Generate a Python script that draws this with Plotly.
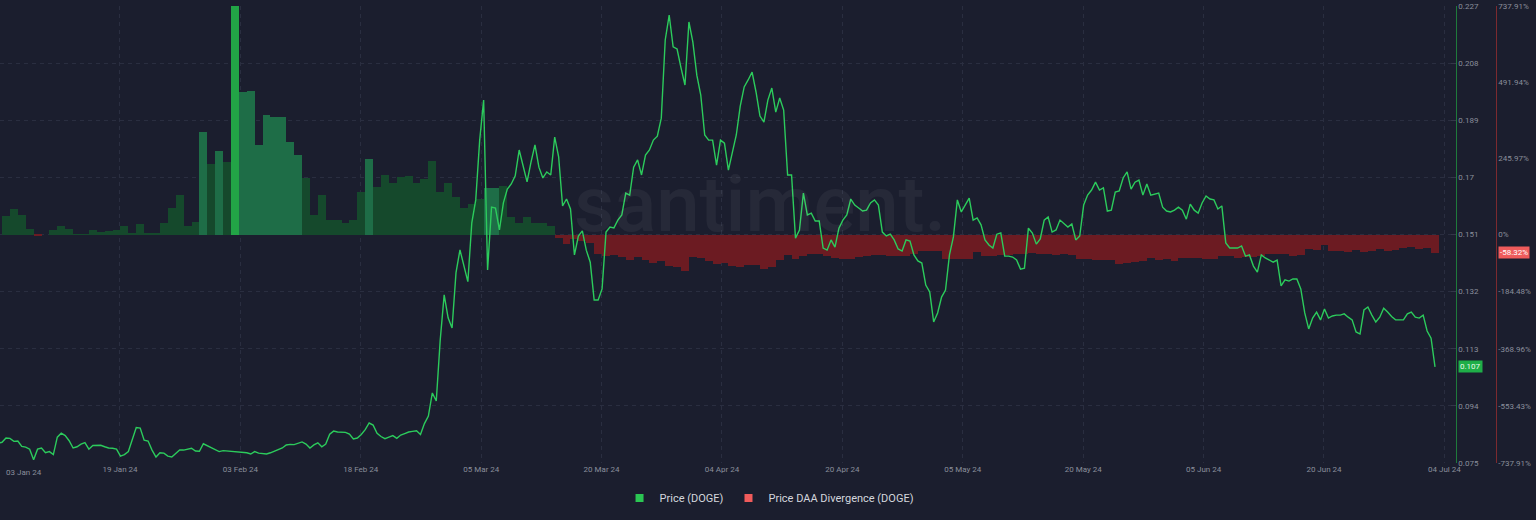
import plotly.graph_objects as go
import pandas as pd

# ---------------- data ----------------
price_start = "2024-01-04 00:00"          # 12-hourly DOGE price
price_doge = [
    0.0816, 0.0819, 0.0833, 0.0832, 0.0822, 0.0823, 0.0805, 0.0803, 0.0796, 0.0761,
    0.0796, 0.0800, 0.0784, 0.0788, 0.0778, 0.0836, 0.0849, 0.0841, 0.0824, 0.0800,
    0.0804, 0.0813, 0.0818, 0.0796, 0.0808, 0.0808, 0.0809, 0.0804, 0.0800, 0.0799,
    0.0796, 0.0773, 0.0778, 0.0788, 0.0826, 0.0868, 0.0866, 0.0826, 0.0823, 0.0793,
    0.0770, 0.0784, 0.0783, 0.0773, 0.0770, 0.0781, 0.0793, 0.0793, 0.0795, 0.0799,
    0.0790, 0.0789, 0.0814, 0.0808, 0.0801, 0.0795, 0.0788, 0.0791, 0.0790, 0.0788,
    0.0787, 0.0785, 0.0784, 0.0784, 0.0780, 0.0788, 0.0783, 0.0781, 0.0780, 0.0784,
    0.0790, 0.0796, 0.0800, 0.0810, 0.0812, 0.0811, 0.0816, 0.0820, 0.0813, 0.0800,
    0.0810, 0.0817, 0.0804, 0.0813, 0.0846, 0.0856, 0.0853, 0.0852, 0.0852, 0.0846,
    0.0830, 0.0833, 0.0845, 0.0861, 0.0883, 0.0876, 0.0849, 0.0838, 0.0831, 0.0836,
    0.0841, 0.0832, 0.0843, 0.0848, 0.0853, 0.0855, 0.0857, 0.0845, 0.0881, 0.0906,
    0.0983, 0.0956, 0.1159, 0.1309, 0.1233, 0.1199, 0.1383, 0.1459, 0.1406, 0.1353,
    0.1549, 0.1625, 0.1824, 0.1957, 0.1392, 0.1601, 0.1598, 0.1525, 0.1615, 0.1661,
    0.1678, 0.1705, 0.1791, 0.1741, 0.1685, 0.1751, 0.1808, 0.1734, 0.1698, 0.1718,
    0.1708, 0.1834, 0.1768, 0.1605, 0.1628, 0.1595, 0.1442, 0.1505, 0.1522, 0.1458,
    0.1418, 0.1292, 0.1292, 0.1329, 0.1518, 0.1535, 0.1532, 0.1558, 0.1575, 0.1648,
    0.1641, 0.1734, 0.1758, 0.1708, 0.1774, 0.1791, 0.1824, 0.1837, 0.1897, 0.2157,
    0.2240, 0.2134, 0.2127, 0.2064, 0.2007, 0.2217, 0.2150, 0.2040, 0.1974, 0.1841,
    0.1824, 0.1824, 0.1741, 0.1824, 0.1814, 0.1724, 0.1788, 0.1841, 0.1937, 0.2001,
    0.2024, 0.2050, 0.1984, 0.1904, 0.1884, 0.1957, 0.1997, 0.1917, 0.1964, 0.1924,
    0.1708, 0.1708, 0.1498, 0.1525, 0.1648, 0.1575, 0.1581, 0.1555, 0.1555, 0.1465,
    0.1458, 0.1492, 0.1468, 0.1531, 0.1558, 0.1575, 0.1628, 0.1608, 0.1598, 0.1588,
    0.1591, 0.1615, 0.1625, 0.1608, 0.1518, 0.1505, 0.1511, 0.1492, 0.1462, 0.1455,
    0.1492, 0.1488, 0.1442, 0.1422, 0.1415, 0.1342, 0.1319, 0.1219, 0.1249, 0.1302,
    0.1325, 0.1442, 0.1502, 0.1625, 0.1585, 0.1608, 0.1631, 0.1558, 0.1565, 0.1542,
    0.1492, 0.1475, 0.1465, 0.1511, 0.1515, 0.1438, 0.1438, 0.1435, 0.1425, 0.1395,
    0.1398, 0.1531, 0.1515, 0.1478, 0.1495, 0.1558, 0.1568, 0.1518, 0.1525, 0.1558,
    0.1545, 0.1535, 0.1545, 0.1492, 0.1505, 0.1608, 0.1641, 0.1658, 0.1684, 0.1658,
    0.1665, 0.1588, 0.1591, 0.1651, 0.1655, 0.1698, 0.1718, 0.1661, 0.1684, 0.1691,
    0.1641, 0.1678, 0.1641, 0.1645, 0.1648, 0.1601, 0.1588, 0.1585, 0.1591, 0.1601,
    0.1591, 0.1561, 0.1611, 0.1591, 0.1581, 0.1615, 0.1638, 0.1628, 0.1625, 0.1595,
    0.1605, 0.1482, 0.1465, 0.1465, 0.1465, 0.1472, 0.1438, 0.1442, 0.1405, 0.1385,
    0.1442, 0.1432, 0.1425, 0.1418, 0.1425, 0.1339, 0.1359, 0.1355, 0.1362, 0.1362,
    0.1329, 0.1249, 0.1196, 0.1232, 0.1252, 0.1226, 0.1262, 0.1232, 0.1239, 0.1242,
    0.1242, 0.1246, 0.1235, 0.1226, 0.1186, 0.1179, 0.1259, 0.1269, 0.1242, 0.1219,
    0.1235, 0.1265, 0.1252, 0.1237, 0.1226, 0.1226, 0.1226, 0.1246, 0.1252, 0.1235,
    0.1232, 0.1242, 0.1189, 0.1165, 0.1070,
]

div_start = "2024-01-05"                   # daily Price-DAA divergence, %
div_pct = [
    61, 83, 64, 17, -2, 0, 13, 28, 19, 1,
    1, 13, 9, 12, 15, 26, 3, 35, 3, 4,
    37, 85, 127, 29, 40, 332, 227, 270, 233, 737.91,
    460, 464, 289, 386, 380, 380, 298, 256, 184, 64,
    127, 46, 47, 36, 48, 137, 244, 153, 192, 166,
    187, 190, 166, 178, 238, 137, 166, 121, 85, 97,
    115, 150, 150, 158, 58, 38, 56, 38, 38, 26,
    -10, -30, -14, -20, -27, -63, -68, -66, -73, -82,
    -74, -82, -92, -87, -103, -106, -119, -73, -75, -87,
    -95, -92, -103, -106, -98, -100, -113, -106, -83, -66,
    -79, -71, -62, -62, -71, -76, -79, -79, -73, -68,
    -66, -66, -68, -71, -68, -63, -52, -52, -52, -79,
    -79, -79, -79, -57, -71, -71, -65, -65, -63, -63,
    -60, -63, -63, -66, -63, -66, -79, -80, -82, -82,
    -82, -95, -92, -90, -87, -76, -81, -79, -84, -76,
    -76, -77, -79, -79, -71, -71, -76, -73, -73, -71,
    -64, -63, -64, -68, -66, -46, -50, -33, -52, -52,
    -55, -50, -57, -52, -46, -52, -50, -44, -41, -46,
    -44, -58.32,
]

x_tick_labels = ["19 Jan 24", "03 Feb 24", "18 Feb 24", "05 Mar 24", "20 Mar 24", "04 Apr 24",
                 "20 Apr 24", "05 May 24", "20 May 24", "05 Jun 24", "20 Jun 24", "04 Jul 24"]
first_tick_label = "03 Jan 24"
price_tick_vals = [0.075, 0.094, 0.113, 0.132, 0.151, 0.17, 0.189, 0.208, 0.227]
price_tick_text = ["0.075", "0.094", "0.113", "0.132", "0.151", "0.17", "0.189", "0.208", "0.227"]
div_tick_vals = [-737.91, -553.43, -368.96, -184.48, 0, 245.97, 491.94, 737.91]
div_tick_text = ["-737.91%", "-553.43%", "-368.96%", "-184.48%", "0%", "245.97%", "491.94%", "737.91%"]
last_price = 0.107
last_div = -58.32

# ---------------- style ----------------
W, H = 1536, 520
BG = "#1b1e2e"
GRID = "#2a2e40"
TICK = "#8a8e9b"
LINE_G = "#2ccb5c"
G_DARK = "#15492c"
G_MID = "#1e6d47"
G_BRIGHT = "#22a446"
RED = "#6c1b22"
AX_G = "#1f7a3b"
AX_R = "#7c2a2f"
highlight_mid = [25, 27, 30, 31, 32, 33, 34, 35, 36, 37, 46, 61, 62]
highlight_bright = [29]
FONT = "Roboto"

price_x = pd.date_range(price_start, periods=len(price_doge), freq="12h")
div_x = pd.date_range(div_start, periods=len(div_pct), freq="D")

bar_colors = []
for i, v in enumerate(div_pct):
    if v < 0:
        bar_colors.append(RED)
    elif i in highlight_bright:
        bar_colors.append(G_BRIGHT)
    elif i in highlight_mid:
        bar_colors.append(G_MID)
    else:
        bar_colors.append(G_DARK)

tick_positions = pd.date_range("2024-01-19 10:30", periods=len(x_tick_labels), freq="366h")

fig = go.Figure()
fig.add_trace(go.Bar(
    x=div_x, y=div_pct, yaxis="y", width=86400000 * 1.0,
    marker=dict(color=bar_colors, line=dict(width=0)),
    showlegend=False, hoverinfo="skip"))
fig.add_trace(go.Scatter(
    x=price_x, y=price_doge, yaxis="y2", mode="lines",
    line=dict(color=LINE_G, width=1.4), showlegend=False, hoverinfo="skip"))
# legend entries (square swatches like the reference)
fig.add_trace(go.Scatter(x=[None], y=[None], yaxis="y2", mode="markers",
                         marker=dict(symbol="square", size=8, color="#2bc653"),
                         name="Price (DOGE)"))
fig.add_trace(go.Scatter(x=[None], y=[None], yaxis="y2", mode="markers",
                         marker=dict(symbol="square", size=8, color="#f05b5b"),
                         name="Price DAA Divergence (DOGE)"))

plot_right = 1455.7
fig.update_layout(
    width=W, height=H,
    margin=dict(l=0, r=0, t=6, b=57, autoexpand=False),
    paper_bgcolor=BG, plot_bgcolor=BG,
    font=dict(family=FONT, color=TICK, size=8),
    bargap=0,
    xaxis=dict(
        domain=[0, plot_right / W], type="date", automargin=False,
        range=["2024-01-04 05:49", "2024-07-06 14:53"],
        tickvals=tick_positions, ticktext=x_tick_labels,
        showgrid=True, gridcolor=GRID, griddash="4px,4px", gridwidth=1,
        ticks="", showline=False, zeroline=False,
        tickfont=dict(size=8, color=TICK), fixedrange=True),
    yaxis=dict(
        anchor="free", position=1495.7 / W, side="right", automargin=False,
        range=[-737.91, 737.91], tickvals=div_tick_vals, ticktext=div_tick_text,
        showgrid=False, zeroline=False, showline=True, linecolor=AX_R, linewidth=1,
        ticks="", tickfont=dict(size=8, color=TICK), fixedrange=True),
    yaxis2=dict(
        overlaying="y", anchor="x", side="right", automargin=False,
        range=[0.075, 0.227], tickvals=price_tick_vals, ticktext=price_tick_text,
        showgrid=True, gridcolor=GRID, griddash="4px,4px", gridwidth=1,
        zeroline=False, showline=True, linecolor=AX_G, linewidth=1,
        ticks="inside", ticklen=5, tickcolor="#343849",
        tickfont=dict(size=8, color=TICK), fixedrange=True),
    legend=dict(orientation="h", x=0.501, xanchor="center", y=-0.0766, yanchor="middle",
                font=dict(size=11, color="#d3d6dd"), bgcolor="rgba(0,0,0,0)", itemwidth=30),
    annotations=[
        dict(text="santiment.", xref="paper", yref="paper", x=0.4948, y=0.5646,
             xanchor="center", yanchor="middle", showarrow=False,
             font=dict(size=78, color="rgba(255,255,255,0.05)", family=FONT, weight=500)),
        dict(text=first_tick_label, xref="paper", yref="paper", x=4 / W, y=-0.0197,
             xanchor="left", yanchor="middle", showarrow=False,
             font=dict(size=8, color=TICK)),
        dict(text=f"{last_price:.3f}", xref="paper", yref="y2", x=1458 / W, y=last_price,
             xanchor="left", yanchor="middle", showarrow=False, bgcolor="#1fae48",
             borderpad=1, font=dict(size=8, color="#eafbea")),
        dict(text=f"{last_div:.2f}%", xref="paper", yref="y", x=1498 / W, y=last_div,
             xanchor="left", yanchor="middle", showarrow=False, bgcolor="#ef5b5b",
             borderpad=1, font=dict(size=8, color="#ffffff")),
    ],
)

post_js = (
    "document.documentElement.style.margin='0';"
    "document.body.style.margin='0';"
    "document.body.style.padding='0';"
    "document.documentElement.style.overflow='hidden';"
    "document.body.style.background='" + BG + "';"
)

fig.write_html("out.html", config={"displayModeBar": False}, post_script=post_js)
